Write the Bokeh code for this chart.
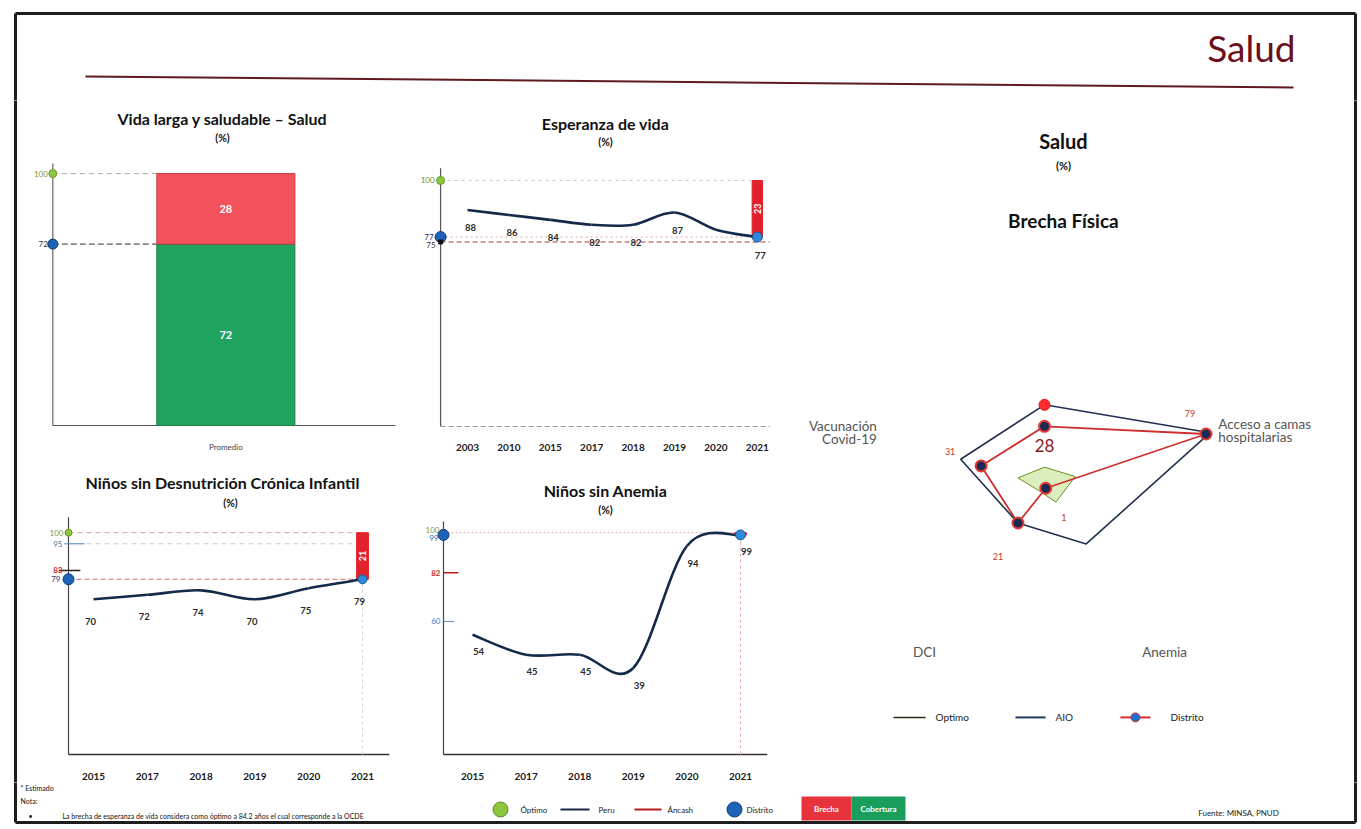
import math
from bokeh.plotting import figure
from bokeh.models import Range1d, FixedTicker
from bokeh.layouts import column, row
from bokeh.embed import file_html
from bokeh.resources import INLINE
from bokeh.core.properties import value

FONT = "Lato"

# ---------------- data ----------------
page_title = "Salud"

vida_title = "Vida larga y saludable – Salud"
vida_cats = ["Promedio"]
vida_cobertura = [72]
vida_brecha = [28]
vida_optimo = 100
vida_distrito = 72

esp_title = "Esperanza de vida"
esp_years = ["2003", "2010", "2015", "2017", "2018", "2019", "2020", "2021"]
esp_values = [88, 86, 84, 82, 82, 87, 80, 77]
esp_point_labels = ["88", "86", "84", "82", "82", "87", "", "77"]
esp_optimo = 100
esp_distrito = 77
esp_peru = 75
esp_brecha = 23

dci_title = "Niños sin Desnutrición Crónica Infantil"
dci_years = ["2015", "2017", "2018", "2019", "2020", "2021"]
dci_values = [70, 72, 74, 70, 75, 79]
dci_optimo = 100
dci_peru = 95
dci_ancash = 83
dci_brecha = 21

anemia_title = "Niños sin Anemia"
anemia_years = ["2015", "2017", "2018", "2019", "2020", "2021"]
anemia_values = [54, 45, 45, 39, 94, 99]
anemia_optimo = 100
anemia_peru = 60
anemia_ancash = 82
anemia_brecha = 1

radar_title = "Salud"
radar_subtitle = "Brecha Física"
radar_axes = ["Brecha Física", "Acceso a camas\nhospitalarias", "Anemia", "DCI", "Vacunación\nCovid-19"]
radar_optimo = [9, 15, 9, 3, 13]
radar_aio = [38, 81, 33, 21, 41]
radar_distrito = [28, 79, 1, 21, 31]

footer_note = "La brecha de esperanza de vida considera como óptimo a 84.2 años el cual corresponde a la OCDE"
footer_source = "Fuente: MINSA, PNUD"

# ---------------- colours ----------------
NAVY = "#15294a"
GREEN_M = "#8cc63f"
BLUE_M = "#1e63b8"
RED = "#e3212b"
DARK = "#2a2a2a"
TITLE_SIZE = 16


def base_fig(w, h, xr, yr, bb=0, xaxis=False):
    p = figure(width=w, height=h, x_range=Range1d(*xr), y_range=Range1d(*yr),
               output_backend="svg", toolbar_location=None, title=None,
               x_axis_location="below" if xaxis else None, y_axis_location=None,
               min_border_left=0, min_border_right=0, min_border_top=0, min_border_bottom=bb)
    p.grid.visible = False
    p.outline_line_color = None
    p.background_fill_color = "white"
    p.border_fill_color = "white"
    return p


def txt(p, x, y, text, size, color=DARK, bold=False, align="center", baseline="middle",
        dx=0, dy=0, angle=0.0):
    p.text(x=[x], y=[y], text=[text], x_offset=dx, y_offset=dy, angle=angle,
           text_font=value(FONT), text_font_size=f"{size}px", text_color=color,
           text_font_style="bold" if bold else "normal", text_align=align, text_baseline=baseline)


def style_xaxis(p, labels, standoff, size=10, bold=True, color="#1a1a1a", ticks=None):
    ax = p.xaxis[0]
    t = ticks if ticks is not None else list(range(len(labels)))
    ax.ticker = FixedTicker(ticks=t)
    ax.major_label_overrides = {tk: l for tk, l in zip(t, labels)}
    ax.axis_line_color = None
    ax.major_tick_line_color = None
    ax.minor_tick_line_color = None
    ax.major_label_text_font = FONT
    ax.major_label_text_font_size = f"{size}px"
    ax.major_label_text_font_style = "bold" if bold else "normal"
    ax.major_label_text_color = color
    ax.major_label_standoff = standoff


def smooth(p, xs, ys, color=NAVY, width=2.6):
    n = len(xs)
    d = {k: [] for k in ["x0", "y0", "x1", "y1", "cx0", "cy0", "cx1", "cy1"]}
    for i in range(n - 1):
        xm, ym = (xs[i - 1], ys[i - 1]) if i > 0 else (xs[i], ys[i])
        xp, yp = (xs[i + 2], ys[i + 2]) if i + 2 < n else (xs[i + 1], ys[i + 1])
        d["x0"].append(xs[i]); d["y0"].append(ys[i])
        d["x1"].append(xs[i + 1]); d["y1"].append(ys[i + 1])
        d["cx0"].append(xs[i] + (xs[i + 1] - xm) / 6.0)
        d["cy0"].append(ys[i] + (ys[i + 1] - ym) / 6.0)
        d["cx1"].append(xs[i + 1] - (xp - xs[i]) / 6.0)
        d["cy1"].append(ys[i + 1] - (yp - ys[i]) / 6.0)
    p.bezier(line_color=color, line_width=width, **d)


def point_labels(p, xs, ys, texts, dy, dx=0, size=9.5):
    p.text(x=xs, y=ys, text=texts, y_offset=dy, x_offset=dx, text_font=value(FONT),
           text_font_size=f"{size}px", text_font_style="bold", text_color="#2a2a2a",
           text_align="center", text_baseline="middle")


# ---------------- header (page coordinates) ----------------
W = 1358
header = base_fig(W, 100, (0, W), (100, 0))
header.segment(x0=15, y0=13, x1=1355, y1=13, line_color="#1e1e1e", line_width=3)
header.segment(x0=[15, 1355], y0=[13, 13], x1=[15, 1355], y1=[102, 102], line_color="#1e1e1e", line_width=3)
header.segment(x0=85, y0=76, x1=1293, y1=87, line_color="#5e1a1e", line_width=2)
header.text(x=[1295], y=[47], text=[page_title], text_font=value(FONT), text_font_size="37px",
            text_color="#6a0f1c", text_align="right", text_baseline="middle")

# ---------------- p1: Vida larga ----------------
p1 = base_fig(380, 355, (-0.0943, 1.0146), (-1.19, 129.0), bb=27, xaxis=True)
bx = [i + 0.505 for i in range(len(vida_cats))]
style_xaxis(p1, vida_cats, 7, size=8, bold=False, color="#444", ticks=bx)
bar_top = [c + b for c, b in zip(vida_cobertura, vida_brecha)]
p1.segment(x0=0, y0=0, x1=0, y1=104, line_color="#666", line_width=1.2)
p1.segment(x0=0, y0=0, x1=1.0, y1=0, line_color="#555", line_width=1.2)
p1.segment(x0=0, y0=vida_optimo, x1=bx[0] - 0.2, y1=vida_optimo, line_color="#aaaaaa", line_dash="5 4")
p1.segment(x0=0, y0=vida_distrito, x1=bx[0] - 0.2, y1=vida_distrito, line_color="#333", line_dash="6 3")
p1.vbar(x=bx, bottom=0, top=vida_cobertura, width=0.403, fill_color="#1fa35e", line_color="#1a7f48")
p1.vbar(x=bx, bottom=vida_cobertura, top=bar_top, width=0.403, fill_color="#f2525c", line_color="#c93a42")
p1.text(x=bx, y=[c / 2 for c in vida_cobertura], text=[str(v) for v in vida_cobertura],
        text_font=value(FONT), text_font_size="11px", text_font_style="bold", text_color="white",
        text_align="center", text_baseline="middle")
p1.text(x=bx, y=[c + b / 2 for c, b in zip(vida_cobertura, vida_brecha)], text=[str(v) for v in vida_brecha],
        text_font=value(FONT), text_font_size="11px", text_font_style="bold", text_color="white",
        text_align="center", text_baseline="middle")
p1.scatter(x=[0], y=[vida_optimo], size=8, fill_color=GREEN_M, line_color="#6a9a2a")
p1.scatter(x=[0], y=[vida_distrito], size=10, fill_color=BLUE_M, line_color="#0d3c78")
txt(p1, 0, vida_optimo, str(vida_optimo), 8, color="#7a9a3a", align="right", dx=-5)
txt(p1, 0, vida_distrito, str(vida_distrito), 8, color="#333", align="right", dx=-5)
txt(p1, 0.495, 121.9, vida_title, TITLE_SIZE, bold=True, color="#111")
txt(p1, 0.495, 114.3, "(%)", 10.5, bold=True, color="#111")

# ---------------- p2: Esperanza de vida ----------------
p2 = base_fig(380, 355, (-1.618, 7.56), (-0.8, 132.5), bb=23, xaxis=True)
style_xaxis(p2, esp_years, 9)
AX = -0.65
ex = list(range(len(esp_years)))
last = ex[-1]
p2.segment(x0=AX, y0=0, x1=AX, y1=105, line_color="#555", line_width=1.2)
p2.segment(x0=AX, y0=0, x1=7.3, y1=0, line_color="#999", line_dash="5 3")
p2.segment(x0=AX, y0=esp_optimo, x1=last - 0.12, y1=esp_optimo, line_color="#c8c8c8", line_dash="3 4")
p2.segment(x0=AX, y0=esp_distrito, x1=last, y1=esp_distrito, line_color="#e6a5a5", line_dash="2 3")
p2.segment(x0=AX, y0=esp_peru, x1=7.3, y1=esp_peru, line_color="#b23a3a", line_dash="5 3")
p2.vbar(x=[last], bottom=esp_distrito, top=esp_distrito + esp_brecha, width=0.25, fill_color=RED, line_color=RED)
txt(p2, last, esp_distrito + esp_brecha / 2, str(esp_brecha), 9, color="white", bold=True, angle=math.pi / 2)
smooth(p2, ex, esp_values)
p2.scatter(x=[last], y=[esp_values[-1]], size=10, fill_color="#2e8ad8", line_color="#1a5a9a")
p2.scatter(x=[AX], y=[esp_optimo], size=8, fill_color=GREEN_M, line_color="#6a9a2a")
p2.scatter(x=[AX], y=[esp_distrito], size=11, fill_color=BLUE_M, line_color="#0d3c78")
p2.scatter(x=[AX], y=[esp_peru], size=4, marker="square", fill_color="#111", line_color="#111")
txt(p2, AX, esp_optimo, str(esp_optimo), 8, color="#6f8f30", align="right", dx=-6)
txt(p2, AX, esp_distrito, str(esp_distrito), 8, color="#1e3a6a", align="right", dx=-7)
txt(p2, AX, esp_peru, str(esp_peru), 8, color="#333", align="right", dx=-5, dy=3)
point_labels(p2, ex, esp_values, esp_point_labels, 18, dx=3)
txt(p2, 3.333, 123.3, esp_title, TITLE_SIZE, bold=True, color="#111")
txt(p2, 3.333, 115.7, "(%)", 10.5, bold=True, color="#111")

# ---------------- p3: DCI ----------------
p3 = base_fig(380, 327, (-1.357, 5.706), (-0.89, 134.8), bb=23, xaxis=True)
style_xaxis(p3, dci_years, 10)
AX3 = -0.465
dx3 = list(range(len(dci_years)))
l3 = dx3[-1]
p3.segment(x0=AX3, y0=0, x1=AX3, y1=107, line_color="#444", line_width=1.2)
p3.segment(x0=AX3, y0=0, x1=5.5, y1=0, line_color="#333", line_width=1.5)
p3.segment(x0=AX3, y0=dci_optimo, x1=l3, y1=dci_optimo, line_color="#e39a9a", line_dash="5 4")
p3.segment(x0=AX3, y0=dci_peru, x1=l3, y1=dci_peru, line_color="#cccccc", line_dash="5 4")
p3.segment(x0=AX3, y0=dci_values[-1], x1=l3, y1=dci_values[-1], line_color="#d06a6a", line_dash="5 3")
p3.segment(x0=AX3 - 0.18, y0=dci_ancash, x1=AX3 + 0.22, y1=dci_ancash, line_color="#222", line_width=1.5)
p3.segment(x0=AX3 - 0.08, y0=dci_peru, x1=AX3 + 0.3, y1=dci_peru, line_color="#5a8ac0", line_width=1)
p3.segment(x0=l3, y0=0, x1=l3, y1=dci_optimo, line_color="#d5d5d5", line_dash="3 3")
p3.vbar(x=[l3], bottom=dci_values[-1], top=dci_values[-1] + dci_brecha, width=0.22, fill_color=RED, line_color=RED)
txt(p3, l3, dci_values[-1] + dci_brecha / 2, str(dci_brecha), 9, color="white", bold=True, angle=math.pi / 2)
smooth(p3, dx3, dci_values)
p3.scatter(x=[l3], y=[dci_values[-1]], size=9, fill_color="#2e8ad8", line_color="#1a5a9a")
p3.scatter(x=[AX3], y=[dci_optimo], size=7, fill_color=GREEN_M, line_color="#6a9a2a")
p3.scatter(x=[AX3], y=[dci_values[-1]], size=11, fill_color=BLUE_M, line_color="#0d3c78")
txt(p3, AX3, dci_optimo, str(dci_optimo), 8, color="#7a9a3a", align="right", dx=-5)
txt(p3, AX3, dci_peru, str(dci_peru), 8, color="#4a7ab0", align="right", dx=-6)
txt(p3, AX3, dci_ancash, str(dci_ancash), 8, color="#c62828", bold=True, align="right", dx=-6)
txt(p3, AX3, dci_values[-1], str(dci_values[-1]), 8, color="#1e3a6a", align="right", dx=-8)
point_labels(p3, dx3, dci_values, [str(v) for v in dci_values], 22, dx=-3)
txt(p3, 2.397, 122.8, dci_title, TITLE_SIZE, bold=True, color="#111")
txt(p3, 2.546, 113.4, "(%)", 10.5, bold=True, color="#111")

# ---------------- p4: Anemia ----------------
p4 = base_fig(380, 327, (-1.343, 5.746), (-0.89, 134.8), bb=23, xaxis=True)
style_xaxis(p4, anemia_years, 10)
AX4 = -0.541
ax4 = list(range(len(anemia_years)))
l4 = ax4[-1]
p4.segment(x0=AX4, y0=0, x1=AX4, y1=105, line_color="#444", line_width=1.2)
p4.segment(x0=AX4, y0=0, x1=5.5, y1=0, line_color="#333", line_width=1.5)
p4.segment(x0=AX4, y0=anemia_optimo, x1=5.1, y1=anemia_optimo, line_color="#e3a9a9", line_dash="2 2")
p4.segment(x0=l4, y0=0, x1=l4, y1=anemia_values[-1], line_color="#e3a9a9", line_dash="3 3")
p4.segment(x0=AX4, y0=anemia_ancash, x1=AX4 + 0.28, y1=anemia_ancash, line_color="#b71c1c", line_width=1.5)
p4.segment(x0=AX4, y0=anemia_peru, x1=AX4 + 0.2, y1=anemia_peru, line_color="#5a8ac0", line_width=1)
p4.vbar(x=[l4], bottom=anemia_values[-1], top=anemia_values[-1] + anemia_brecha, width=0.22, fill_color=RED, line_color=RED)
smooth(p4, ax4, anemia_values)
p4.scatter(x=[l4], y=[anemia_values[-1]], size=10, fill_color="#2e8ad8", line_color="#1a5a9a")
p4.scatter(x=[AX4], y=[anemia_optimo], size=7, fill_color=GREEN_M, line_color="#6a9a2a")
p4.scatter(x=[AX4], y=[anemia_values[-1]], size=11, fill_color=BLUE_M, line_color="#0d3c78")
txt(p4, AX4, anemia_optimo, str(anemia_optimo), 8, color="#7a9a3a", align="right", baseline="bottom", dx=-4)
txt(p4, AX4, anemia_values[-1], str(anemia_values[-1]), 8, color="#2a6db5", align="right", baseline="top", dx=-5)
txt(p4, AX4, anemia_ancash, str(anemia_ancash), 8, color="#c62828", bold=True, align="right", dx=-3)
txt(p4, AX4, anemia_peru, str(anemia_peru), 8, color="#3a7ab5", align="right", dx=-3)
point_labels(p4, ax4, anemia_values, [str(v) for v in anemia_values], 17, dx=6)
txt(p4, 2.481, 119.2, anemia_title, TITLE_SIZE, bold=True, color="#111")
txt(p4, 2.481, 110.3, "(%)", 10.5, bold=True, color="#111")

# ---------------- radar ----------------
S = 2.15
radar = base_fig(563, 682, (-264 / S, (563 - 264) / S), (-(682 - 386) / S, 386 / S))
angles = [math.radians(90 - 72 * i) for i in range(len(radar_axes))]


def polar(vals):
    xs = [v * math.cos(a) for v, a in zip(vals, angles)]
    ys = [v * math.sin(a) for v, a in zip(vals, angles)]
    return xs, ys


ox, oy = polar(radar_optimo)
radar.patch(ox, oy, fill_color="#cfe8a8", fill_alpha=0.75, line_color="#6b8e23", line_width=1)
axx, axy = polar(radar_aio)
radar.line(axx + axx[:1], axy + axy[:1], line_color="#22304f", line_width=1.6)
dxr, dyr = polar(radar_distrito)
radar.line(dxr + dxr[:1], dyr + dyr[:1], line_color="#cf2e2e", line_width=1.8)
radar.scatter(x=axx[:1], y=axy[:1], size=11, fill_color="#ff2a2a", line_color="#e01a1a")
radar.scatter(x=dxr, y=dyr, size=11, fill_color="#1a2c55", line_color="#e53935", line_width=2)
radar.text(x=[dxr[0]], y=[dyr[0]], text=[str(radar_distrito[0])], y_offset=19, text_font=value(FONT),
           text_font_size="17px", text_color="#8b1a1a", text_align="center", text_baseline="middle")
radar.text(x=dxr[1:], y=dyr[1:], text=[str(v) for v in radar_distrito[1:]],
           x_offset=[-16, 18, -20, -31], y_offset=[-21, 29, 33, -14], text_font=value(FONT),
           text_font_size="9px", text_color="#c0392b", text_align="center", text_baseline="middle")
for i in range(1, len(radar_axes)):
    a = angles[i]
    if i in (2, 3):
        r, al = 95, "center"
    elif math.cos(a) > 0:
        r, al = 85, "left"
    else:
        r, al = 82, "right"
    cx, cy = r * math.cos(a), r * math.sin(a)
    lines = radar_axes[i].split("\n")
    n = len(lines)
    for k, ln in enumerate(lines):
        yy = cy + ((n - 1) / 2 - k) * (13 / S)
        radar.text(x=[cx], y=[yy], text=[ln], text_font=value(FONT), text_font_size="13.5px",
                   text_color="#555", text_align=al, text_baseline="middle")
txt(radar, 8.8, 160.9, radar_title, 20, bold=True, color="#111")
txt(radar, 8.8, 149.3, "(%)", 11, bold=True, color="#111")
txt(radar, 8.8, 123.7, radar_subtitle, 19, bold=True, color="#111")
LY = -107.4
radar.segment(x0=-70.2, y0=LY, x1=-55.3, y1=LY, line_color="#2b2b1a", line_width=1.5)
radar.segment(x0=-13.5, y0=LY, x1=0.5, y1=LY, line_color="#1f3a5f", line_width=2)
radar.segment(x0=35.3, y0=LY, x1=49.3, y1=LY, line_color="#d32f2f", line_width=2)
radar.scatter(x=[42.3], y=[LY], size=9, fill_color="#1e6fd0", line_color="#d32f2f")
radar.text(x=[-50.7, 5.1, 58.6], y=[LY] * 3, text=["Optimo", "AIO", "Distrito"], text_font=value(FONT),
           text_font_size="10px", text_color="#222", text_align="left", text_baseline="middle")

# ---------------- border strips ----------------
left_strip = base_fig(20, 682, (0, 20), (0, 682))
left_strip.segment(x0=15, y0=-2, x1=15, y1=684, line_color="#1e1e1e", line_width=3)
right_strip = base_fig(15, 682, (0, 15), (0, 682))
right_strip.segment(x0=12, y0=-2, x1=12, y1=684, line_color="#1e1e1e", line_width=3)

# ---------------- footer (page x, page y - 782) ----------------
footer = base_fig(W, 44, (0, W), (44, 0))
footer.segment(x0=15, y0=40, x1=1355, y1=40, line_color="#1e1e1e", line_width=3)
footer.segment(x0=[15, 1355], y0=[-2, -2], x1=[15, 1355], y1=[40, 40], line_color="#1e1e1e", line_width=3)
footer.text(x=[20, 20, 28, 62], y=[5, 18, 33, 33], text=["* Estimado", "Nota:", "•", footer_note],
            text_font=value(FONT), text_font_size="7px", text_color="#111", text_align="left",
            text_baseline="middle")
footer.scatter(x=[500], y=[27], size=15, fill_color=GREEN_M, line_color="#5a8a2a")
footer.scatter(x=[734], y=[27], size=15, fill_color=BLUE_M, line_color="#0d3c78")
footer.segment(x0=[560, 634], y0=[27, 27], x1=[589, 661], y1=[27, 27], line_color=[NAVY, "#b71c1c"], line_width=2)
footer.text(x=[520, 598, 667, 746], y=[27] * 4, text=["Óptimo", "Peru", "Áncash", "Distrito"],
            text_font=value(FONT), text_font_size="8px", text_color="#222", text_align="left",
            text_baseline="middle")
footer.quad(left=[801, 851], right=[851, 905], top=[14, 14], bottom=[38, 38],
            fill_color=["#e8323c", "#1a9e5c"], line_color=None)
footer.text(x=[826, 878], y=[26, 26], text=["Brecha", "Cobertura"], text_font=value(FONT),
            text_font_size="8px", text_font_style="bold", text_color="white", text_align="center",
            text_baseline="middle")
footer.text(x=[1238], y=[30], text=[footer_source], text_font=value(FONT), text_font_size="8px",
            text_color="#222", text_align="center", text_baseline="middle")

layout = column(header,
                row(left_strip, column(row(p1, p2), row(p3, p4)), radar, right_strip),
                footer)

open("out.html", "w").write(file_html(layout, INLINE))
